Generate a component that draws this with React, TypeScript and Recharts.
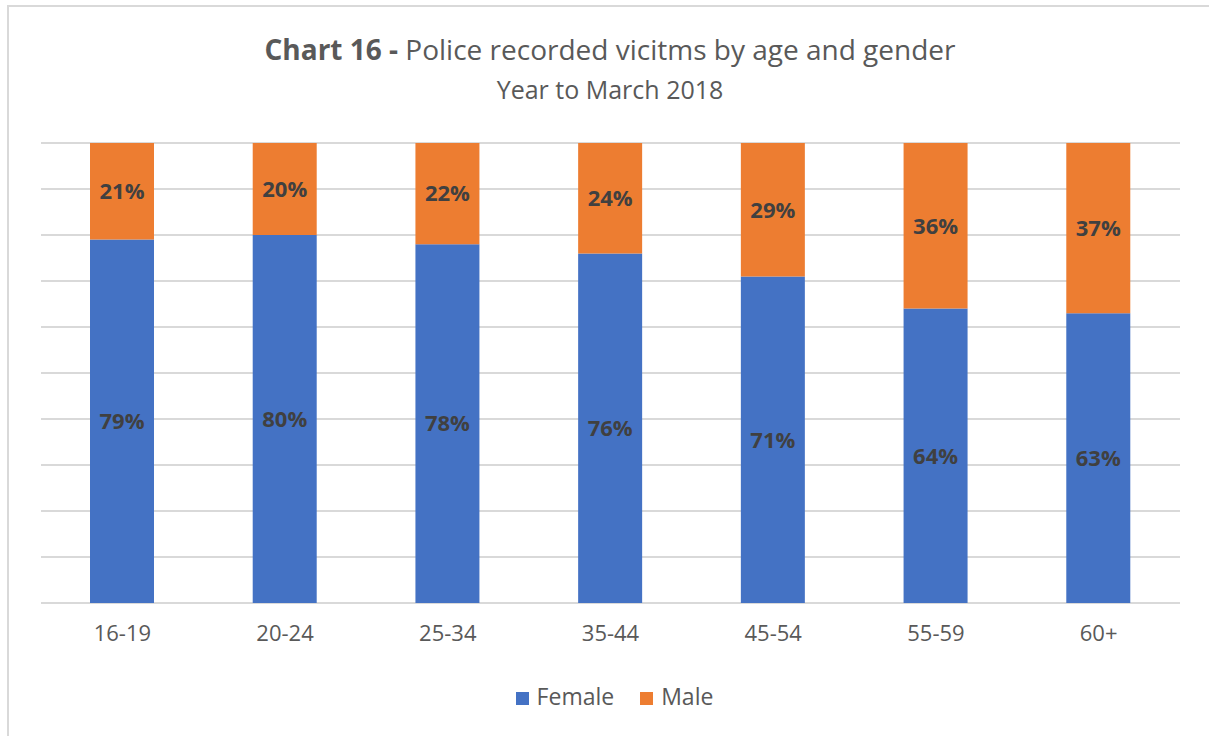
import { BarChart, Bar, XAxis, YAxis, CartesianGrid, Legend, LabelList } from "recharts";

const ageGroups = ["16-19", "20-24", "25-34", "35-44", "45-54", "55-59", "60+"];
const femaleShare = [79, 80, 78, 76, 71, 64, 63];
const maleShare = [21, 20, 22, 24, 29, 36, 37];
const yTicks = [0, 10, 20, 30, 40, 50, 60, 70, 80, 90, 100];

const data = ageGroups.map((age, i) => ({
  age,
  Female: femaleShare[i],
  Male: maleShare[i],
}));

const FONT = "'Open Sans', 'Noto Sans', sans-serif";
const TEXT = "#595959";
const LABEL = { fill: "#404040", fontWeight: 700, fontSize: 22, fontFamily: FONT };

export default function App() {
  return (
    <div
      style={{
        position: "absolute",
        left: 0,
        top: 0,
        width: 1209,
        height: 736,
        background: "#fff",
        fontFamily: FONT,
        overflow: "hidden",
      }}
    >
      <div
        style={{
          position: "absolute",
          left: 7,
          top: 5,
          width: 1230,
          height: 760,
          border: "2px solid #d9d9d9",
          boxSizing: "border-box",
        }}
      />
      <div
        style={{
          position: "absolute",
          left: 0,
          width: 1220,
          top: 29,
          textAlign: "center",
          fontSize: 28,
          color: TEXT,
          lineHeight: "40px",
        }}
      >
        <span style={{ fontWeight: 700 }}>Chart 16 -</span> Police recorded vicitms by age and gender
      </div>
      <div
        style={{
          position: "absolute",
          left: 0,
          width: 1220,
          top: 71,
          textAlign: "center",
          fontSize: 25,
          color: TEXT,
          lineHeight: "36px",
        }}
      >
        Year to March 2018
      </div>
      <div style={{ position: "absolute", left: 0, top: 0 }}>
        <BarChart
          width={1209}
          height={736}
          data={data}
          margin={{ top: 143, right: 29, left: 41, bottom: 24 }}
          barSize={64}
        >
          <CartesianGrid vertical={false} stroke="#d9d9d9" strokeWidth={2} />
          <YAxis hide domain={[0, 100]} ticks={yTicks} />
          <XAxis
            dataKey="age"
            axisLine={false}
            tickLine={false}
            tickMargin={16}
            height={77}
            tick={{ fontSize: 22, fill: TEXT, fontFamily: FONT }}
          />
          <Legend
            verticalAlign="bottom"
            iconType="square"
            iconSize={13}
            wrapperStyle={{ fontSize: 23, fontFamily: FONT, paddingLeft: 17 }}
            formatter={(value) => (
              <span style={{ color: TEXT, marginLeft: 4, marginRight: 16 }}>{value}</span>
            )}
          />
          <Bar dataKey="Female" stackId="a" fill="#4472C4" isAnimationActive={false}>
            <LabelList dataKey="Female" position="center" formatter={(v: any) => `${v}%`} style={LABEL} />
          </Bar>
          <Bar dataKey="Male" stackId="a" fill="#ED7D31" isAnimationActive={false}>
            <LabelList dataKey="Male" position="center" formatter={(v: any) => `${v}%`} style={LABEL} />
          </Bar>
        </BarChart>
      </div>
    </div>
  );
}
